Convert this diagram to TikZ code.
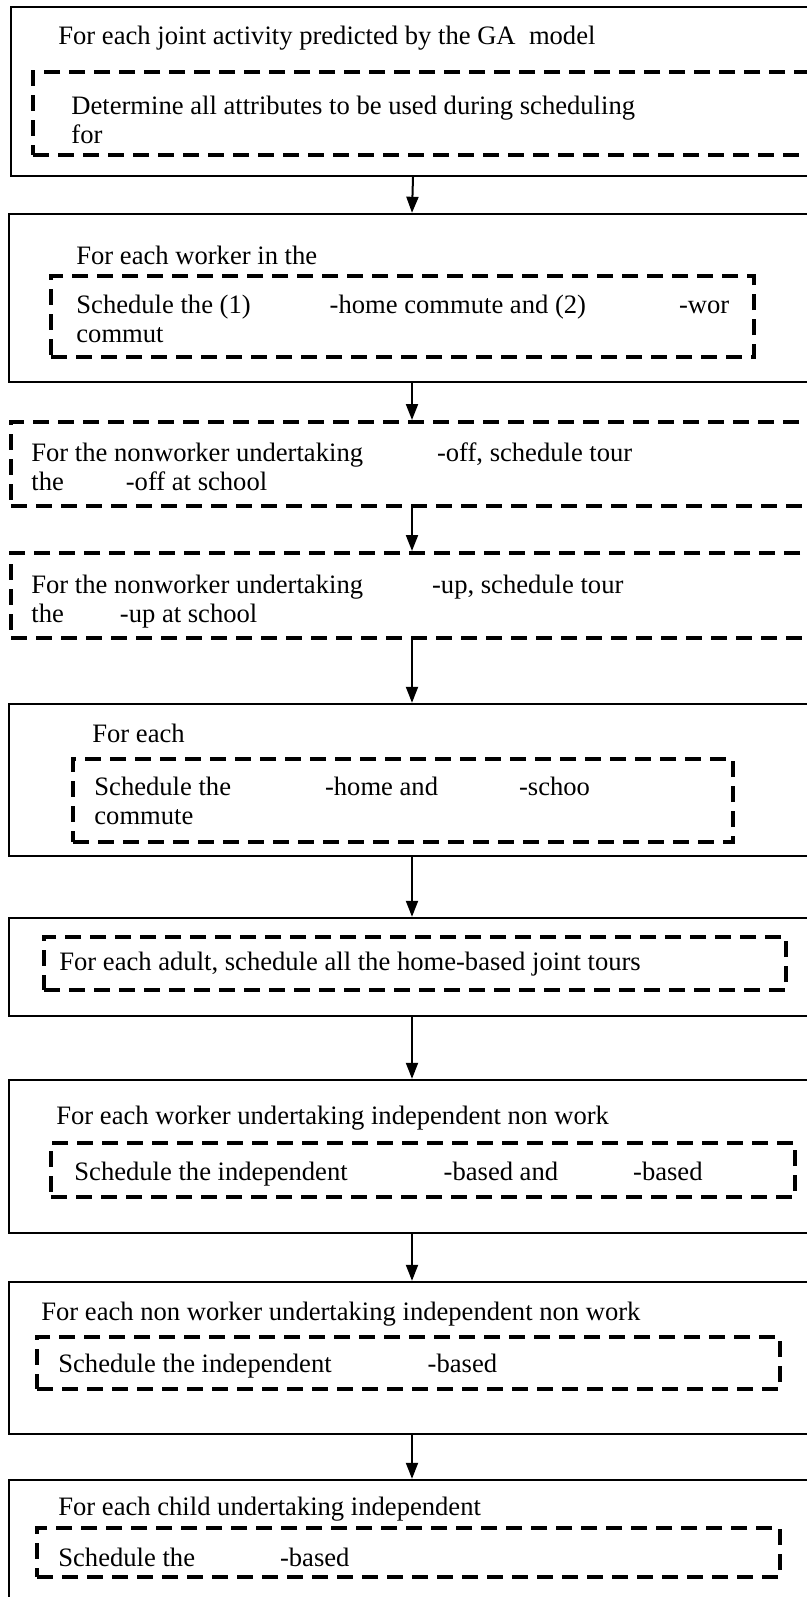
\documentclass[tikz,border=0pt]{standalone}
\usepackage{fontspec}
\setmainfont{Liberation Serif}
\usetikzlibrary{arrows.meta, fit}

\begin{document}
\begin{tikzpicture}[x=0.5pt, y=-0.5pt,
  solidbox/.style={draw, line width=1.2pt, inner sep=0pt},
  dashbox/.style={draw, line width=2pt, dash pattern=on 8pt off 4.5pt, inner sep=0pt},
  lbl/.style={anchor=west, inner sep=0pt, align=left, font=\fontsize{13.3}{14.5}\selectfont},
  flow/.style={-{Triangle[length=8pt,width=6pt]}, line width=1pt}]
  \useasboundingbox (0,0) rectangle (807,1597);
  \clip (0,0) rectangle (807,1597);

  % outer boxes
  \node[solidbox, fit={(11,7) (815,176)}] (b1) {};
  \node[solidbox, fit={(9,214) (815,382)}] (b2) {};
  \node[solidbox, fit={(9,704) (815,856)}] (b5) {};
  \node[solidbox, fit={(9,918) (815,1016)}] (b6) {};
  \node[solidbox, fit={(9,1080) (815,1233)}] (b7) {};
  \node[solidbox, fit={(9,1282) (815,1434)}] (b8) {};
  \node[solidbox, fit={(9,1480) (815,1640)}] (b9) {};

  % dashed boxes
  \node[dashbox, fit={(33,72) (830,155)}] (d1) {};
  \node[dashbox, fit={(51,276) (754,357)}] (d2) {};
  \node[dashbox, fit={(11,422) (813,506)}] (d3) {};
  \node[dashbox, fit={(11,553) (813,638)}] (d4) {};
  \node[dashbox, fit={(73,759) (733,842)}] (d5) {};
  \node[dashbox, fit={(44,937) (786,990)}] (d6) {};
  \node[dashbox, fit={(51,1143) (795,1197)}] (d7) {};
  \node[dashbox, fit={(37,1337) (780,1389)}] (d8) {};
  \node[dashbox, fit={(37,1528) (780,1577)}] (d9) {};

  % texts
  \node[lbl] (t1) at (58,38) {For each joint activity predicted by the GA\ \ model};
  \node[lbl] (s1) at (71,120) {Determine all attributes to be used during scheduling\\for};
  \node[lbl] (t2) at (76,255) {For each worker in the};
  \node[lbl] (s2) at (76,319) {Schedule the (1)\hspace{39.5pt}-home commute and (2)\hspace{46.5pt}-wor\\commut};
  \node[lbl] (s3) at (31,467) {For the nonworker undertaking\hspace{37pt}-off, schedule tour\\the\hspace{31pt}-off at school};
  \node[lbl] (s4) at (31,602) {For the nonworker undertaking\hspace{34.5pt}-up, schedule tour\\the\hspace{28pt}-up at school};
  \node[lbl] (t5) at (92,733) {For each};
  \node[lbl] (s5) at (94,801) {Schedule the\hspace{47pt}-home and\hspace{40.5pt}-schoo\\commute};
  \node[lbl] (s6) at (59,964) {For each adult, schedule all the home-based joint tours};
  \node[lbl] (t7) at (56,1118) {For each worker undertaking independent non work};
  \node[lbl] (s7) at (74,1174) {Schedule the independent\hspace{48pt}-based and\hspace{37.5pt}-based};
  \node[lbl] (t8) at (41,1314) {For each non worker undertaking independent non work};
  \node[lbl] (s8) at (58,1366) {Schedule the independent\hspace{48pt}-based};
  \node[lbl] (t9) at (58,1509) {For each child undertaking independent};
  \node[lbl] (s9) at (58,1557) {Schedule the\hspace{42.5pt}-based};

  % arrows
  \draw[flow] (b1.south) -- (b2.north);
  \draw[flow] (b2.south) -- (d3.north);
  \draw[flow] (d3.south) -- (d4.north);
  \draw[flow] (d4.south) -- (b5.north);
  \draw[flow] (b5.south) -- (b6.north);
  \draw[flow] (b6.south) -- (b7.north);
  \draw[flow] (b7.south) -- (b8.north);
  \draw[flow] (b8.south) -- (b9.north);
\end{tikzpicture}
\end{document}
